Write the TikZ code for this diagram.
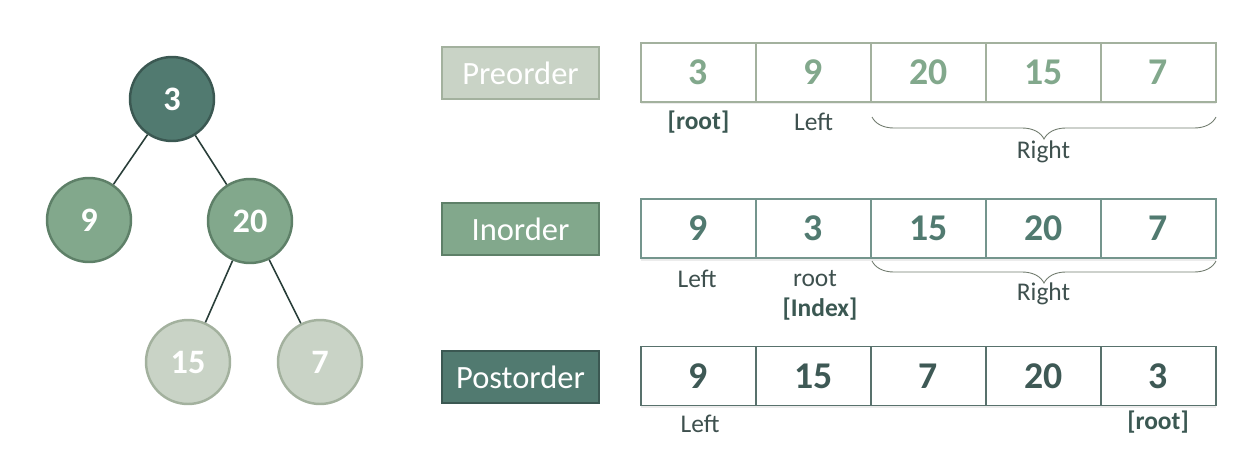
\documentclass[tikz,border=0pt]{standalone}
\usepackage{fontspec}
\setmainfont{Carlito}
\usetikzlibrary{shadows,decorations.pathreplacing}

\definecolor{tealdark}{HTML}{517A70}
\definecolor{tealline}{HTML}{3B5852}
\definecolor{sage}{HTML}{82A88C}
\definecolor{sageline}{HTML}{5E8068}
\definecolor{pale}{HTML}{C9D3C6}
\definecolor{paleline}{HTML}{A3B19E}
\definecolor{inktext}{HTML}{3E504E}
\definecolor{posttext}{HTML}{3E5955}

\tikzset{
  tnode/.style={circle, minimum size=1.68cm, line width=1.4pt, text=white,
    font=\fontsize{19.5}{19.5}\selectfont\bfseries},
  edge/.style={line width=0.9pt, draw=tealline!70!black},
  tag/.style={draw, line width=0.8pt, minimum width=3.14cm, minimum height=1.04cm,
    text=white, font=\fontsize{18.5}{18.5}\selectfont},
  cell/.style={draw, fill=white, line width=0.8pt, minimum width=2.3cm, minimum height=1.18cm,
    font=\fontsize{21.5}{21.5}\selectfont\bfseries,
    drop shadow={opacity=0.15, shadow xshift=0pt, shadow yshift=-0.05cm}},
  lbl/.style={text=inktext, font=\fontsize{14.5}{14.5}\selectfont},
  blbl/.style={text=tealline, font=\fontsize{14.5}{14.5}\selectfont\bfseries},
  rbrace/.style={draw=paleline!70!black, line width=0.5pt,
    decorate, decoration={brace, mirror, amplitude=0.44cm}}
}

\begin{document}
\begin{tikzpicture}[x=0.02cm, y=-0.02cm]
    \useasboundingbox (0,0) rectangle (1238,454);

    % Tree
    \node[tnode, fill=tealdark, draw=tealline] (n3) at (172,99) {3};
    \node[tnode, fill=sage, draw=sageline] (n9) at (89,220) {9};
    \node[tnode, fill=sage, draw=sageline] (n20) at (250,221) {20};
    \node[tnode, fill=pale, draw=paleline] (n15) at (188,362) {15};
    \node[tnode, fill=pale, draw=paleline] (n7) at (320,362) {7};

    % -- edges
    \draw[edge] (n3) -- (n9);
    \draw[edge] (n3) -- (n20);
    \draw[edge] (n20) -- (n15);
    \draw[edge] (n20) -- (n7);

    % Row Tags
    \node[tag, fill=pale, draw=paleline] (tpre) at (520.5,73) {Preorder};
    \node[tag, fill=sage, draw=sageline] (tin) at (520.5,229) {Inorder};
    \node[tag, fill=tealdark, draw=tealline] (tpost) at (520.5,377) {Postorder};

    % Arrays
    \foreach \v [count=\i] in {3,9,20,15,7}
        \node[cell, draw=paleline, text=sage] (pre\i) at ({583.5+115*\i},72.5) {\v};
    \foreach \v [count=\i] in {9,3,15,20,7}
        \node[cell, draw=tealdark!80, text=tealdark] (in\i) at ({583.5+115*\i},228.5) {\v};
    \foreach \v [count=\i] in {9,15,7,20,3}
        \node[cell, draw=tealline!85, text=posttext] (post\i) at ({583.5+115*\i},376) {\v};

    % Array Labels
    % -- preorder
    \node[blbl] (preroot) at (698.5,122) {[root]};
    \node[lbl] (preleft) at (813.5,122) {Left};
    \coordinate (preA) at (872,117);
    \coordinate (preB) at (1216,117);
    \draw[rbrace] (preA) -- (preB);
    \node[lbl] (preright) at (1043.5,152) {Right};

    % -- inorder
    \node[lbl] (inleft) at (697,279) {Left};
    \node[lbl] (inroot) at (815,279) {root};
    \node[blbl] (inidx) at (820,309) {[Index]};
    \coordinate (inA) at (872,261);
    \coordinate (inB) at (1216,261);
    \draw[rbrace] (inA) -- (inB);
    \node[lbl] (inright) at (1043.5,294) {Right};

    % -- postorder
    \node[lbl] (postleft) at (700,424) {Left};
    \node[blbl] (postroot) at (1158,422) {[root]};
\end{tikzpicture}
\end{document}
